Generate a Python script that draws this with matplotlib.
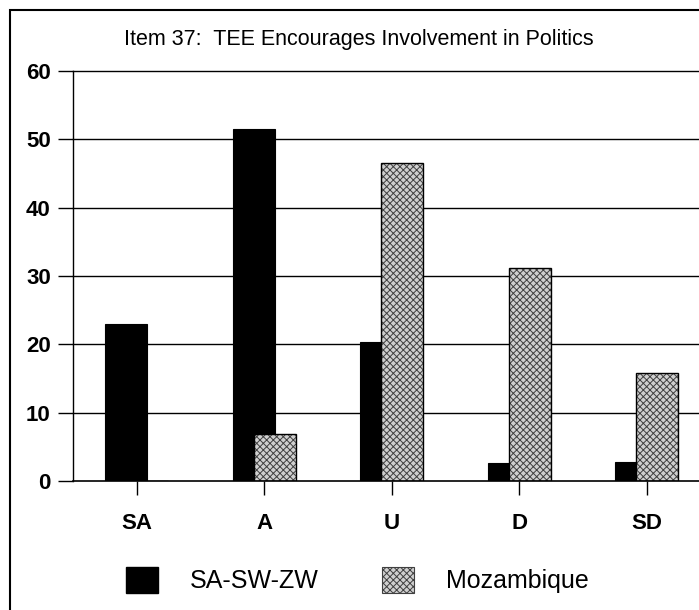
import matplotlib
matplotlib.use("Agg")
import matplotlib.pyplot as plt
import numpy as np
from matplotlib.patches import Rectangle, Patch

categories = ["SA", "A", "U", "D", "SD"]
sa_sw_zw = [23.0, 51.5, 20.3, 2.6, 2.8]
mozambique = [0.0, 6.9, 46.6, 31.2, 15.8]
y_ticks = [0, 10, 20, 30, 40, 50, 60]
title = "Item 37:  TEE Encourages Involvement in Politics"
series_names = ["SA-SW-ZW", "Mozambique"]

W, H = 699, 610
plt.rcParams["font.family"] = ["Liberation Sans", "DejaVu Sans"]
plt.rcParams["hatch.linewidth"] = 0.7

fig = plt.figure(figsize=(W / 100, H / 100), dpi=100)
fig.patch.set_facecolor("white")

left_px, right_px, top_px, bottom_px = 73, 699, 71, 481
ax = fig.add_axes([left_px / W, 1 - bottom_px / H,
                   (right_px - left_px) / W, (bottom_px - top_px) / H])

x = np.arange(len(categories))
bw = 0.33
off = 0.083
moz_face = "#cfcfcf"
moz_hatch = "#404040"

ax.bar(x - off, sa_sw_zw, width=bw, color="black", edgecolor="black",
       linewidth=0.8, zorder=3)
ax.bar(x + off, mozambique, width=bw, color=moz_face, edgecolor=moz_hatch,
       hatch="xxxxx", linewidth=0, zorder=4)
ax.bar(x + off, mozambique, width=bw, fill=False, edgecolor="black",
       linewidth=1.0, zorder=5)

ax.set_xlim(-0.5, (right_px - 139) / 127)
ax.set_ylim(0, 60)
ax.set_yticks(y_ticks)
ax.set_xticks(x)
ax.set_xticklabels(categories)

for yv in y_ticks[1:]:
    ax.axhline(yv, color="black", linewidth=1.0, zorder=1, clip_on=False)

for s in ["top", "right"]:
    ax.spines[s].set_visible(False)
ax.spines["left"].set_linewidth(1.0)
ax.spines["bottom"].set_linewidth(1.2)
ax.spines["bottom"].set_zorder(6)

ax.tick_params(axis="y", direction="out", length=11, width=1.0, pad=5,
               labelsize=16)
ax.tick_params(axis="x", direction="out", length=10, width=1.0, pad=13,
               labelsize=16)
for lab in ax.get_xticklabels() + ax.get_yticklabels():
    lab.set_fontweight("bold")

fig.text(359 / W, 1 - 40 / H, title, ha="center", va="center",
         fontsize=15.5)

fs = 18
fspx = fs * 100 / 72
h1 = Patch(facecolor="black", edgecolor="black")
h2 = Patch(facecolor=moz_face, edgecolor=moz_hatch, hatch="xxxxx", linewidth=0.8)
fig.legend([h1, h2], series_names, loc="center left",
           bbox_to_anchor=(126 / W, 1 - 580 / H), ncol=2,
           frameon=False, borderpad=0, borderaxespad=0,
           handlelength=32 / fspx, handleheight=32 / fspx,
           handletextpad=32 / fspx, columnspacing=63 / fspx,
           prop={"size": fs})

fig.patches.append(Rectangle((10 / W, -0.1), 1.2, 1 - 10 / H + 0.1,
                             transform=fig.transFigure, fill=False,
                             edgecolor="black", linewidth=1.5))

fig.savefig("out.png", dpi=100)
